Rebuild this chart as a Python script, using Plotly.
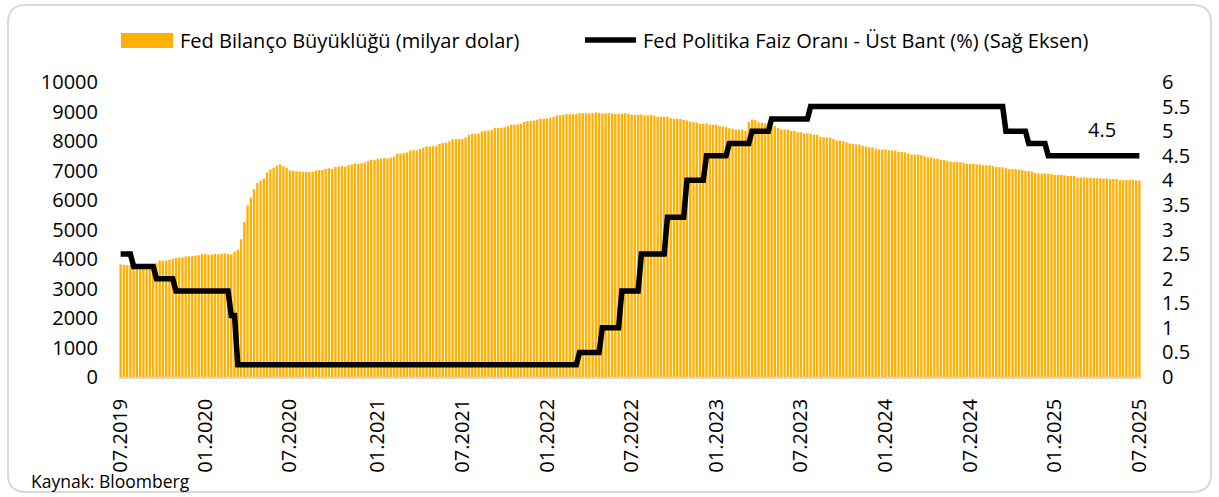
import pandas as pd
import plotly.graph_objects as go

# ---------------- data (weekly, milyar dolar) ----------------
week_start = "2019-07-03"
balance_2019 = [3813, 3801, 3787, 3790, 3781, 3760, 3777, 3761, 3760, 3761, 3770, 3856, 3946,
                3946, 3945, 3968, 4005, 4035, 4040, 4054, 4088, 4092, 4095, 4115, 4130, 4165]
balance_2020 = [4173, 4147, 4152, 4177, 4158, 4180, 4190, 4170, 4159, 4241, 4312, 4666, 5254,
                5815, 6083, 6368, 6573, 6656, 6721, 6934, 7037, 7097, 7165, 7213, 7139, 7092,
                7000, 6994, 6976, 6966, 6957, 6960, 6945, 6958, 6996, 7013, 7017, 7057, 7074,
                7059, 7118, 7131, 7150, 7130, 7182, 7210, 7240, 7223, 7247, 7276, 7326, 7362, 7362]
balance_2021 = [7397, 7415, 7418, 7407, 7437, 7470, 7567, 7569, 7589, 7614, 7687, 7690, 7681,
                7730, 7764, 7816, 7811, 7826, 7826, 7900, 7935, 7946, 7990, 8058, 8063, 8065,
                8069, 8119, 8210, 8235, 8242, 8254, 8327, 8345, 8353, 8379, 8448, 8443, 8448,
                8469, 8503, 8555, 8557, 8565, 8584, 8646, 8677, 8678, 8691, 8720, 8757, 8757]
balance_2022 = [8766, 8789, 8823, 8868, 8873, 8880, 8914, 8910, 8908, 8913, 8947, 8937, 8937,
                8940, 8941, 8965, 8961, 8936, 8938, 8942, 8934, 8915, 8915, 8932, 8939, 8913,
                8891, 8878, 8894, 8895, 8874, 8870, 8878, 8860, 8826, 8822, 8822, 8818, 8778,
                8757, 8753, 8745, 8709, 8693, 8659, 8638, 8627, 8579, 8586, 8592, 8558, 8551]
balance_2023 = [8551, 8509, 8491, 8471, 8434, 8416, 8385, 8381, 8389, 8342, 8639, 8733, 8706,
                8632, 8614, 8593, 8562, 8503, 8503, 8436, 8386, 8390, 8385, 8340, 8343, 8300,
                8297, 8257, 8262, 8237, 8208, 8212, 8141, 8126, 8121, 8108, 8069, 8021, 8009,
                7995, 7959, 7922, 7900, 7884, 7877, 7835, 7807, 7791, 7781, 7740, 7713, 7712]
balance_2024 = [7713, 7686, 7677, 7677, 7631, 7626, 7613, 7580, 7539, 7539, 7542, 7514, 7485,
                7439, 7441, 7400, 7400, 7362, 7357, 7330, 7295, 7284, 7297, 7281, 7261, 7231,
                7223, 7232, 7208, 7205, 7178, 7175, 7178, 7149, 7123, 7115, 7109, 7080, 7047,
                7047, 7046, 7031, 7013, 6988, 6984, 6966, 6926, 6905, 6896, 6905, 6889, 6886]
balance_2025 = [6853, 6852, 6851, 6838, 6818, 6811, 6812, 6766, 6766, 6757, 6756, 6756, 6740,
                6740, 6736, 6727, 6728, 6709, 6711, 6713, 6673, 6673, 6677, 6677, 6681, 6662, 6658]

initial_rate = 2.5
rate_change_dates = ["2019-07-31", "2019-09-18", "2019-10-30", "2020-03-03", "2020-03-15",
                     "2022-03-16", "2022-05-04", "2022-06-15", "2022-07-27", "2022-09-21",
                     "2022-11-02", "2022-12-14", "2023-02-01", "2023-03-22", "2023-05-03",
                     "2023-07-26", "2024-09-18", "2024-11-07", "2024-12-18"]
rate_levels = [2.25, 2.0, 1.75, 1.25, 0.25, 0.5, 1.0, 1.75, 2.5, 3.25, 4.0, 4.5, 4.75,
               5.0, 5.25, 5.5, 5.0, 4.75, 4.5]

bar_name = "Fed Bilanço Büyüklüğü (milyar dolar)"
line_name = "Fed Politika Faiz Oranı - Üst Bant (%) (Sağ Eksen)"
source_text = "Kaynak: Bloomberg"

# ---------------- derived series ----------------
balance = (balance_2019 + balance_2020 + balance_2021 + balance_2022 +
           balance_2023 + balance_2024 + balance_2025)
dates = pd.date_range(week_start, periods=len(balance), freq="7D")
changes = list(zip(pd.to_datetime(rate_change_dates), rate_levels))
rates = []
for d in dates:
    lvl = initial_rate
    for cd, r in changes:
        if cd <= d + pd.Timedelta(days=6):
            lvl = r
    rates.append(lvl)

tick_dates = [d for d in dates if d.month in (1, 7) and d.day <= 7]
tick_text = [d.strftime("%m.%Y") for d in tick_dates]

# ---------------- layout geometry ----------------
W, H = 1219, 497
ML, MR, MT, MB = 119, 78, 82, 120
PW, PH = W - ML - MR, H - MT - MB
FONT = "Open Sans"
BAR_COLOR = "#FFB000"


def px(x):
    return (x - ML) / PW


def py(y):
    return (H - MB - y) / PH


fig = go.Figure()
fig.add_trace(go.Bar(x=dates, y=balance, name=bar_name, marker=dict(color=BAR_COLOR, line=dict(width=0)),
                     showlegend=False))
fig.add_trace(go.Scatter(x=dates, y=rates, name=line_name, yaxis="y2", mode="lines",
                         line=dict(color="black", width=5.5), showlegend=False))

shapes = []
# rounded border
x0, y0, x1, y1, r = 8, 5, 1211, 492, 18
path = (f"M {px(x0 + r)} {py(y0)} L {px(x1 - r)} {py(y0)} Q {px(x1)} {py(y0)} {px(x1)} {py(y0 + r)} "
        f"L {px(x1)} {py(y1 - r)} Q {px(x1)} {py(y1)} {px(x1 - r)} {py(y1)} "
        f"L {px(x0 + r)} {py(y1)} Q {px(x0)} {py(y1)} {px(x0)} {py(y1 - r)} "
        f"L {px(x0)} {py(y0 + r)} Q {px(x0)} {py(y0)} {px(x0 + r)} {py(y0)} Z")
shapes.append(dict(type="path", xref="paper", yref="paper", path=path,
                   line=dict(color="#D9D9D9", width=2), fillcolor="rgba(0,0,0,0)", layer="below"))
# custom legend
shapes.append(dict(type="rect", xref="paper", yref="paper", x0=px(121), x1=px(173), y0=py(48), y1=py(33),
                   fillcolor=BAR_COLOR, line=dict(width=0)))
shapes.append(dict(type="line", xref="paper", yref="paper", x0=px(585), x1=px(636), y0=py(40), y1=py(40),
                   line=dict(color="black", width=5.5)))

annotations = [
    dict(xref="paper", yref="paper", x=px(178), y=py(40), text=bar_name, showarrow=False,
         xanchor="left", yanchor="middle", font=dict(size=20, color="black", family=FONT)),
    dict(xref="paper", yref="paper", x=px(641), y=py(40), text=line_name, showarrow=False,
         xanchor="left", yanchor="middle", font=dict(size=20, color="black", family=FONT)),
    dict(xref="paper", yref="paper", x=px(29), y=py(481), text=source_text, showarrow=False,
         xanchor="left", yanchor="middle", font=dict(size=17.5, color="black", family=FONT)),
    dict(x=dates[-1], y=rates[-1], xref="x", yref="y2", text=f"{rates[-1]:g}", showarrow=False,
         xshift=-37, yshift=26, font=dict(size=20, color="black", family=FONT)),
]

fig.update_layout(
    width=W, height=H,
    margin=dict(l=ML, r=MR, t=MT, b=MB),
    paper_bgcolor="white", plot_bgcolor="white",
    font=dict(family=FONT, size=20, color="black"),
    bargap=0.28,
    showlegend=False,
    shapes=shapes,
    annotations=annotations,
    xaxis=dict(type="date", range=[dates[0] - pd.Timedelta(days=3.5), dates[-1] + pd.Timedelta(days=3.5)],
               tickvals=tick_dates, ticktext=tick_text, tickangle=-90, ticks="",
               showgrid=False, showline=True, linecolor="#D9D9D9", linewidth=1.5,
               ticklabelstandoff=12, tickfont=dict(size=20)),
    yaxis=dict(range=[0, 10000], dtick=1000, tickformat="d", showgrid=False, zeroline=False,
               showline=False, ticks="", ticklabelstandoff=20, tickfont=dict(size=20)),
    yaxis2=dict(range=[0, 6], dtick=0.5, overlaying="y", side="right", showgrid=False, zeroline=False,
                showline=False, ticks="", ticklabelstandoff=20, tickfont=dict(size=20)),
)

fig.write_html("out.html", config={"displayModeBar": False},
               post_script="document.body.style.margin='0';")
